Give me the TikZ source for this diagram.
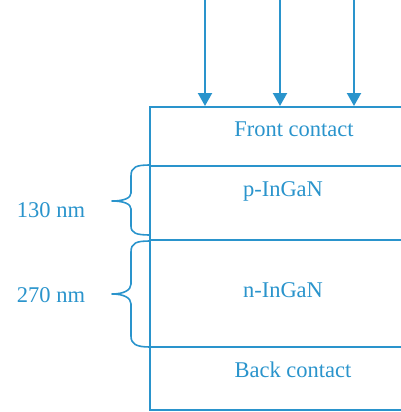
\documentclass[tikz,border=0pt]{standalone}
\usepackage{fontspec}
\setmainfont{Liberation Serif}
\usetikzlibrary{arrows.meta}
\definecolor{layerblue}{RGB}{42,148,204}
\begin{document}
\begin{tikzpicture}[x=1pt,y=-1pt,
  layer/.style={draw=layerblue,line width=2.1pt},
  lbl/.style={text=layerblue,font=\fontsize{22.5}{26}\selectfont,inner sep=0pt,anchor=base},
  ray/.style={draw=layerblue,line width=2.1pt,-{Triangle[width=14pt,length=13pt]}},
  bracepath/.style={draw=layerblue,line width=1.6pt,line join=round}]
\useasboundingbox (0,0) rectangle (401,412);
% stack of layers
\draw[layer] (410,107) -- (150,107) -- (150,410) -- (410,410);
\draw[layer] (150,166) -- (410,166);
\draw[layer] (150,240) -- (410,240);
\draw[layer] (150,347) -- (410,347);
% layer labels
\node[lbl] (front) at (294,136) {Front contact};
\node[lbl] (pin) at (283,196) {p-InGaN};
\node[lbl] (nin) at (283,297) {n-InGaN};
\node[lbl] (back) at (293,377) {Back contact};
% incident light
\foreach \x/\n in {205/a,280/b,354/c}{
  \coordinate (top\n) at (\x,0);
  \coordinate (hit\n) at (\x,106);
  \draw[ray] (top\n) -- (hit\n);
}
% thickness braces
\draw[bracepath] (150,165) .. controls (136,165) and (131,167) .. (131,176)
  -- (131,193) .. controls (131,198) and (124,201) .. (112,201)
  .. controls (124,201) and (131,204) .. (131,209)
  -- (131,226) .. controls (131,233) and (136,235) .. (150,235);
\draw[bracepath] (150,241) .. controls (136,241) and (131,243) .. (131,252)
  -- (131,284) .. controls (131,290) and (124,294) .. (112,294)
  .. controls (124,294) and (131,298) .. (131,304)
  -- (131,336) .. controls (131,344) and (136,347) .. (150,347);
\node[lbl] (t1) at (51,217) {130 nm};
\node[lbl] (t2) at (51,302) {270 nm};
\end{tikzpicture}
\end{document}
